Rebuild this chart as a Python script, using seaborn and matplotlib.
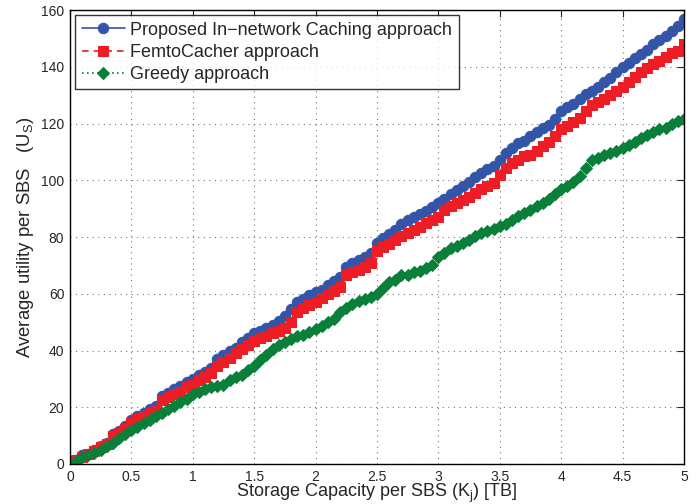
import numpy as np
import pandas as pd
import matplotlib
matplotlib.use("Agg")
import matplotlib.pyplot as plt
import seaborn as sns

capacity = [round(0.05 * i, 2) for i in range(1, 101)]

proposed = [1.5, 3.0, 3.5, 5.0, 6.5, 7.5, 10.5, 11.5, 13.5, 15.5,
            17.0, 18.0, 19.5, 20.5, 24.0, 25.0, 26.5, 27.5, 29.0, 30.0,
            31.5, 32.5, 34.0, 37.0, 38.5, 40.0, 41.0, 43.0, 44.5, 46.0,
            47.0, 48.0, 49.0, 50.5, 52.0, 54.5, 57.0, 58.0, 59.5, 60.5,
            61.5, 63.0, 64.5, 66.0, 69.5, 71.0, 72.0, 73.0, 74.5, 78.0,
            79.5, 81.0, 82.5, 84.5, 86.0, 87.0, 88.0, 89.0, 90.5, 92.0,
            93.5, 95.0, 96.5, 98.0, 99.5, 101.0, 102.5, 104.0, 105.0, 107.0,
            109.5, 111.5, 113.0, 114.0, 115.5, 117.0, 118.5, 119.5, 121.5, 124.5,
            126.0, 127.0, 128.5, 130.5, 131.5, 133.0, 134.5, 136.0, 138.0, 140.0,
            141.5, 143.0, 144.5, 146.0, 148.0, 149.5, 151.0, 152.5, 154.5, 157.0]

femto = [1.5, 2.5, 3.5, 4.5, 6.0, 7.0, 10.0, 11.0, 12.5, 14.5,
         16.0, 17.0, 18.0, 19.0, 22.5, 23.5, 24.5, 25.5, 27.0, 28.0,
         29.5, 30.5, 32.0, 34.5, 36.0, 37.5, 39.0, 40.5, 42.0, 43.5,
         44.5, 45.0, 46.0, 47.0, 48.0, 50.0, 53.5, 55.0, 56.0, 57.0,
         58.5, 60.0, 61.0, 62.5, 66.5, 67.5, 68.5, 69.5, 71.0, 75.0,
         76.5, 77.5, 79.0, 80.5, 81.5, 82.5, 83.5, 85.0, 86.0, 87.0,
         89.5, 91.0, 92.0, 93.0, 94.0, 95.5, 97.0, 98.0, 99.0, 102.0,
         104.5, 106.0, 107.0, 108.5, 109.0, 110.5, 112.0, 113.5, 115.5, 118.0,
         119.0, 120.5, 122.0, 124.5, 126.5, 127.5, 128.5, 130.0, 131.5, 133.0,
         134.5, 136.5, 138.0, 139.5, 141.0, 142.0, 143.5, 145.0, 145.5, 148.0]

greedy = [1.0, 2.5, 3.0, 4.0, 5.0, 6.5, 7.5, 9.0, 10.5, 12.0,
          13.0, 14.5, 15.5, 17.0, 18.0, 19.5, 20.5, 22.0, 23.0, 24.5,
          25.5, 26.5, 27.0, 27.5, 28.0, 29.5, 30.5, 31.5, 33.0, 34.5,
          36.5, 38.5, 40.5, 42.0, 43.0, 44.0, 45.0, 45.5, 46.5, 47.5,
          48.5, 50.0, 51.0, 53.5, 55.0, 56.5, 57.5, 58.0, 59.0, 60.0,
          62.0, 64.0, 65.0, 66.5, 66.5, 67.5, 68.0, 69.0, 70.0, 73.0,
          74.5, 76.0, 77.0, 78.0, 79.0, 80.5, 81.5, 82.0, 83.0, 84.0,
          84.5, 86.0, 87.5, 88.5, 89.5, 91.0, 92.0, 93.5, 95.0, 97.0,
          98.0, 99.5, 101.5, 104.5, 107.0, 108.0, 109.0, 109.5, 110.5, 111.5,
          112.5, 113.5, 115.0, 116.0, 117.0, 118.0, 118.5, 120.0, 121.0, 121.5]

labels = ["Proposed In\u2212network Caching approach", "FemtoCacher approach", "Greedy approach"]
x_ticks = [0, 0.5, 1, 1.5, 2, 2.5, 3, 3.5, 4, 4.5, 5]
x_tick_labels = ["0", "0.5", "1", "1.5", "2", "2.5", "3", "3.5", "4", "4.5", "5"]
y_ticks = [0, 20, 40, 60, 80, 100, 120, 140, 160]

sns.set_style("white")
plt.rcParams['font.family'] = ['Liberation Sans', 'DejaVu Sans']
plt.rcParams['mathtext.fontset'] = 'custom'
plt.rcParams['mathtext.rm'] = 'Liberation Sans'
plt.rcParams['mathtext.it'] = 'Liberation Sans'

fig = plt.figure(figsize=(6.99, 5.04), dpi=100)
ax = fig.add_axes([0.1, 0.0794, 0.8785, 0.9006])

df = pd.DataFrame({"cap": capacity, "p": proposed, "f": femto, "g": greedy})

sns.lineplot(data=df, x="cap", y="p", ax=ax, color="#3355a8", marker="o",
             markersize=7.5, markeredgecolor="#3355a8", linestyle="-", linewidth=1.2,
             label=labels[0])
sns.lineplot(data=df, x="cap", y="f", ax=ax, color="#ee1c25", marker="s",
             markersize=6.5, markeredgecolor="#ee1c25", linewidth=1.2,
             label=labels[1])
sns.lineplot(data=df, x="cap", y="g", ax=ax, color="#0a7f3a", marker="D",
             markersize=6.5, markeredgecolor="#0a7f3a", linewidth=1.2,
             label=labels[2])
ax.lines[1].set_linestyle((0, (4, 3)))
ax.lines[2].set_linestyle((0, (1, 2)))

ax.set_xlim(0, 5)
ax.set_ylim(0, 160)
ax.set_xticks(x_ticks)
ax.set_xticklabels(x_tick_labels)
ax.set_yticks(y_ticks)
ax.tick_params(direction="in", length=5, top=True, right=True, labelsize=10, pad=4)
ax.grid(True, linestyle=(0, (1, 4)), color="#777777", linewidth=0.8)
for s in ax.spines.values():
    s.set_color("black")
    s.set_linewidth(1.0)

ax.set_xlabel("Storage Capacity per SBS (K$_j$) [TB]", fontsize=13, labelpad=-1)
ax.set_ylabel("Average utility per SBS   (U$_S$)", fontsize=13.3, labelpad=4)

leg = ax.legend(loc="upper left", fontsize=13, frameon=True, fancybox=False,
                edgecolor="black", borderaxespad=0.3, handlelength=2.4,
                handletextpad=0.3, labelspacing=0.28, borderpad=0.35)
leg.get_frame().set_linewidth(1.0)

fig.savefig("out.png", dpi=100)
